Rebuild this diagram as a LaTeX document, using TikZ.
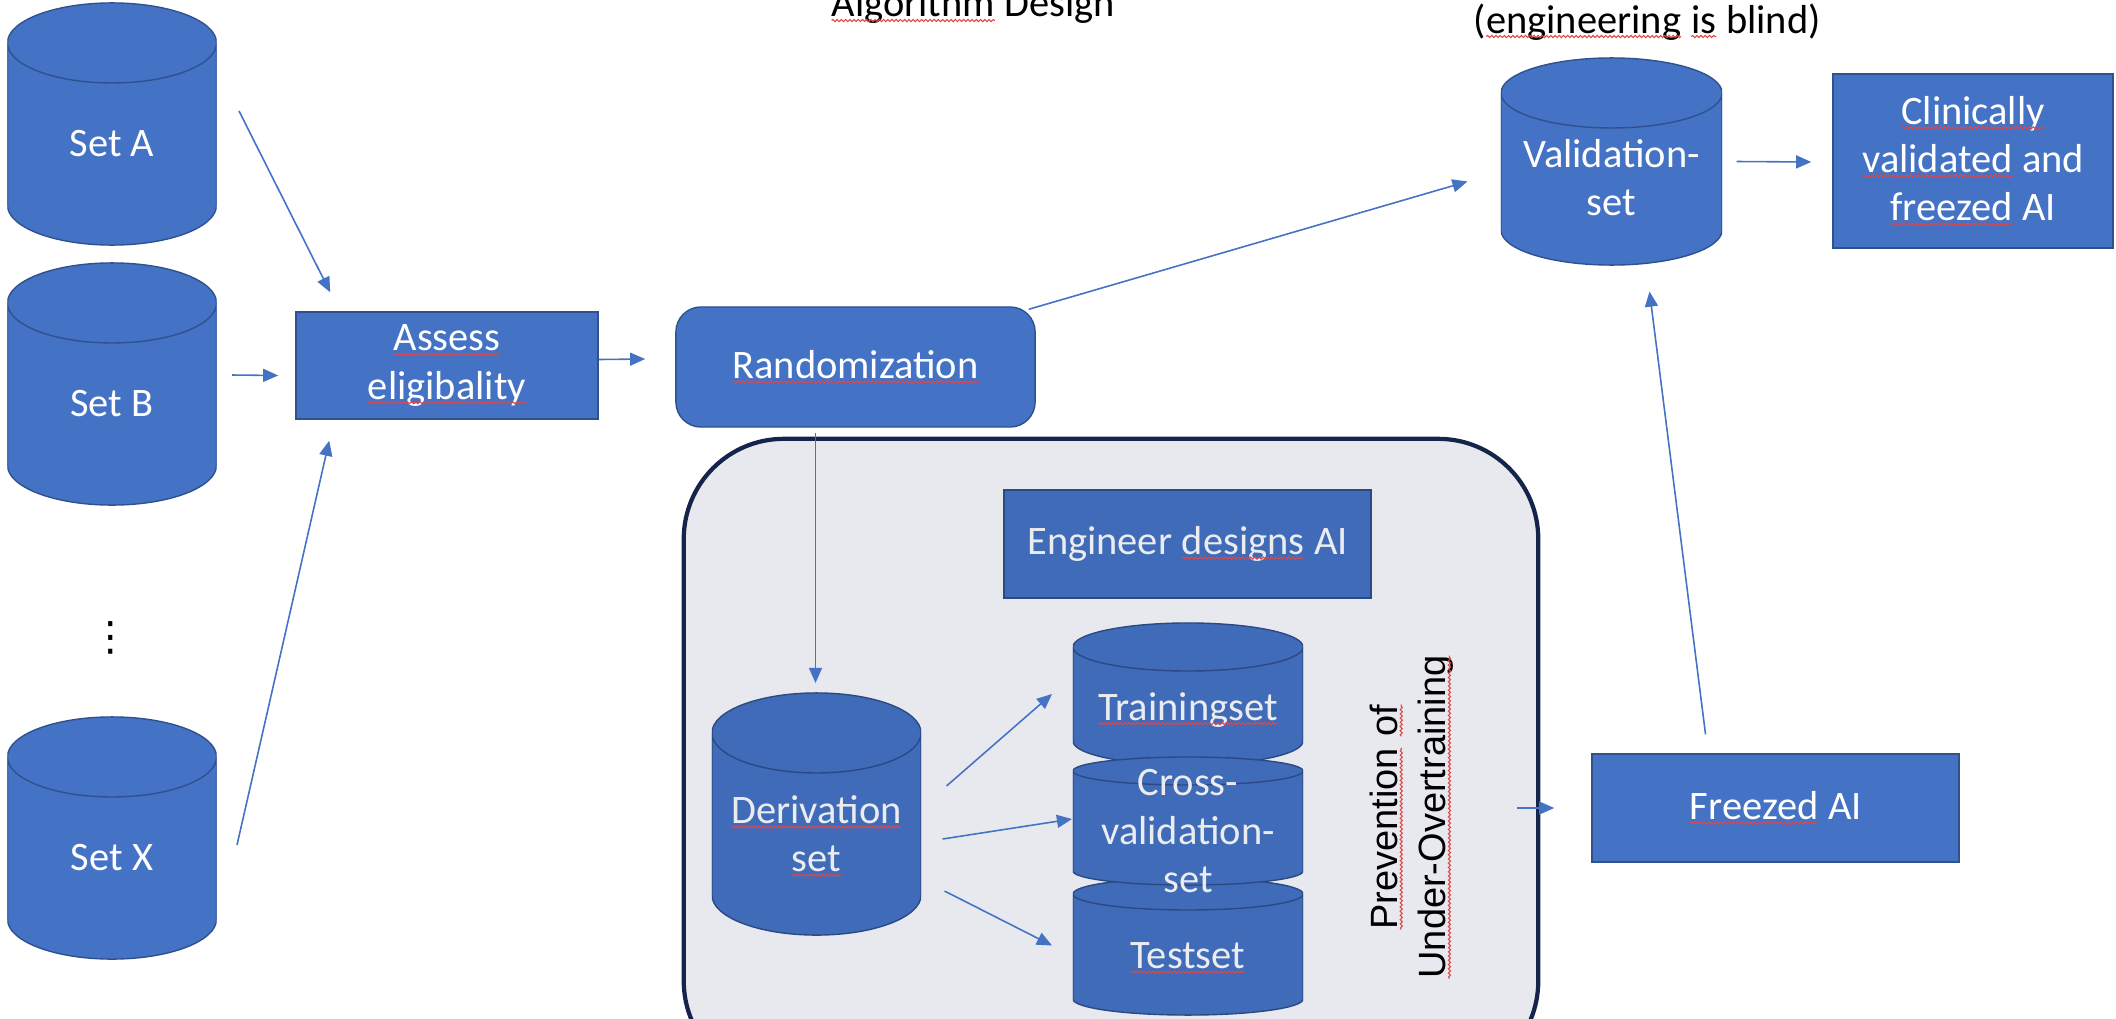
\documentclass[tikz,border=0pt]{standalone}
\usepackage{fontspec}
\setmainfont{Carlito}
\newfontfamily\arialfont{Liberation Sans}
\newfontfamily\symfont{DejaVu Sans}
\usetikzlibrary{positioning,shapes.geometric,arrows.meta,calc,decorations.pathmorphing}

\definecolor{officeblue}{HTML}{4472C4}
\definecolor{officeline}{HTML}{2F528F}
\definecolor{innerblue}{HTML}{3F6BB8}
\definecolor{innerline}{HTML}{2B4A84}
\definecolor{innertext}{HTML}{EBECF0}
\definecolor{panelfill}{HTML}{E8E9EE}
\definecolor{panelline}{HTML}{14244A}
\definecolor{spellred}{HTML}{E04646}

\tikzset{
  lbl/.style={font=\fontsize{11.5}{13.7}\selectfont, align=center},
  box/.style={lbl, rectangle, fill=officeblue, draw=officeline, line width=.4pt, text=white},
  dbpaint/.style={fill=officeblue, draw=officeline, line width=.4pt},
  % can shape, #1 = half height of the top ellipse
  db/.style={lbl, rectangle, inner sep=0pt, text=white,
    path picture={
      \draw[dbpaint] let \p1=(path picture bounding box.south west),
                         \p2=(path picture bounding box.north east) in
        (\x1,\y2-#1) -- (\x1,\y1+#1)
        arc[start angle=180, end angle=360, x radius={(\x2-\x1)/2}, y radius=#1]
        -- (\x2,\y2-#1)
        arc[start angle=0, end angle=360, x radius={(\x2-\x1)/2}, y radius=#1];}},
  inside/.style={text=innertext, dbpaint/.style={fill=innerblue, draw=innerline, line width=.4pt}},
  insidebox/.style={box, fill=innerblue, draw=innerline, text=innertext},
  panel/.style={rectangle, rounded corners=1cm, fill=panelfill, draw=panelline, line width=1.2pt},
  arr/.style={draw=officeblue, line width=.45pt, -{Triangle[length=4.3pt,width=3.7pt]}},
  spellmark/.style={draw=spellred, line width=.3pt, sharp corners, decorate,
    decoration={snake, amplitude=.3pt, segment length=1.2pt}},
}
% red spell-check wave under a word
\newcommand{\spell}[1]{\tikz[baseline=(sp.base), reset cm]{%
  \node[shape=rectangle, inner sep=0pt, outer sep=0pt, minimum size=0pt, draw=none, fill=none, anchor=base] (sp) {#1};%
  \draw[spellmark] ([yshift=-1pt]sp.base west) -- ([yshift=-1pt]sp.base east);}}
% text in the body of a can, lowered by #1
\newcommand{\dbtext}[2]{\smash{\raisebox{-#1}{\begin{tabular}{@{}c@{}}#2\end{tabular}}}}

\begin{document}
\begin{tikzpicture}[x=0.01cm, y=-0.01cm]
\useasboundingbox (0,0) rectangle (2116,1018);
\clip (0,0) rectangle (2116,1018);

% design panel
\node[panel, minimum width=8.54cm, minimum height=6.42cm] (design) at (1111,760) {};

% data sets
\node[db=.4cm, minimum width=2.09cm, minimum height=2.42cm] (setA) at (112,124) {\dbtext{.335cm}{Set A}};
\node[db=.4cm, minimum width=2.09cm, minimum height=2.42cm] (setB) at (112,384) {\dbtext{.335cm}{Set B}};
\node[font=\symfont\fontsize{11.5}{13.7}\selectfont] (dots) at (111,638) {⋮};
\node[db=.4cm, minimum width=2.09cm, minimum height=2.42cm] (setX) at (112,838) {\dbtext{.335cm}{Set X}};

\node[box, minimum width=3.02cm, minimum height=1.07cm] (assess) at (447,365.5) {\spell{Assess}\\\spell{eligibality}};
\node[box, rounded corners=.25cm, minimum width=3.59cm, minimum height=1.2cm] (rand) at (855.5,367) {\spell{Randomization}};

\node[lbl, anchor=base] (title) at (973,17) {\spell{Algorithm} Design};
\node[lbl, anchor=base] (blind) at (1647,33) {(\spell{engineering} \spell{is} blind)};

\node[db=.35cm, minimum width=2.21cm, minimum height=2.07cm] (valid) at (1611.5,161.5) {\dbtext{.31cm}{Validation-\\set}};
\node[box, minimum width=2.8cm, minimum height=1.74cm] (clin) at (1973,161) {\spell{Clinically}\\\spell{validated} and\\\spell{freezed} AI};
\node[box, minimum width=3.67cm, minimum height=1.08cm] (freezed) at (1775.5,808) {\spell{Freezed} AI};

% inside the panel
\node[insidebox, minimum width=3.67cm, minimum height=1.08cm] (engineer) at (1187.5,544) {Engineer \spell{designs} AI};
\node[db=.4cm, inside, minimum width=2.09cm, minimum height=2.42cm] (deriv) at (816.5,814) {\dbtext{.345cm}{\spell{Derivation}\\\spell{set}}};
\node[db=.16cm, inside, minimum width=2.3cm, minimum height=1.37cm] (test) at (1188,946.5) {\dbtext{.23cm}{\spell{Testset}}};
\node[db=.24cm, inside, minimum width=2.3cm, minimum height=1.42cm] (train) at (1188,694) {\dbtext{.27cm}{\spell{Trainingset}}};
\node[db=.14cm, inside, minimum width=2.3cm, minimum height=1.28cm] (cross) at (1188,821) {\dbtext{.24cm}{Cross-\\validation-\\set}};
\node[rotate=90, align=center, font=\arialfont\fontsize{10.8}{13.7}\selectfont] (prevent) at (1412,817)
  {\spell{Prevention} \spell{of}\\\spell{Under-Overtraining}};

% connectors
\draw[arr] ($(setA)+(127,-13)$) -- ($(assess.north west)+(35,-19)$);
\draw[arr] ($(setB)+(120,-9)$) -- ($(assess.west)+(-17,10)$);
\draw[arr] ($(setX)+(125,7)$) -- ($(assess.south west)+(34,21)$);
\draw[arr] ($(assess.east)+(0,-6)$) -- ($(rand.west)+(-30,-8)$);
\draw[arr] ($(rand.north east)+(-7,3)$) -- ($(valid)+(-144,20)$);
\draw[arr] ($(valid)+(125,0)$) -- ($(clin.west)+(-21,1)$);
\draw[arr] ($(freezed.north)+(-70,-19)$) -- ($(valid)+(38,130)$);
\draw[arr] ($(rand.south)+(-40,5)$) -- ($(deriv)+(-1,-131)$);
\draw[arr] ($(deriv)+(130,-28)$) -- ($(train)+(-136,0)$);
\draw[arr] ($(deriv)+(126,25)$) -- ($(cross)+(-116,-2)$);
\draw[arr] ($(deriv)+(128,77)$) -- ($(test)+(-136,-1)$);
\draw[arr] ($(design.east |- freezed.west)+(-23,0)$) -- ($(freezed.west)+(-37,0)$);
\end{tikzpicture}
\end{document}
